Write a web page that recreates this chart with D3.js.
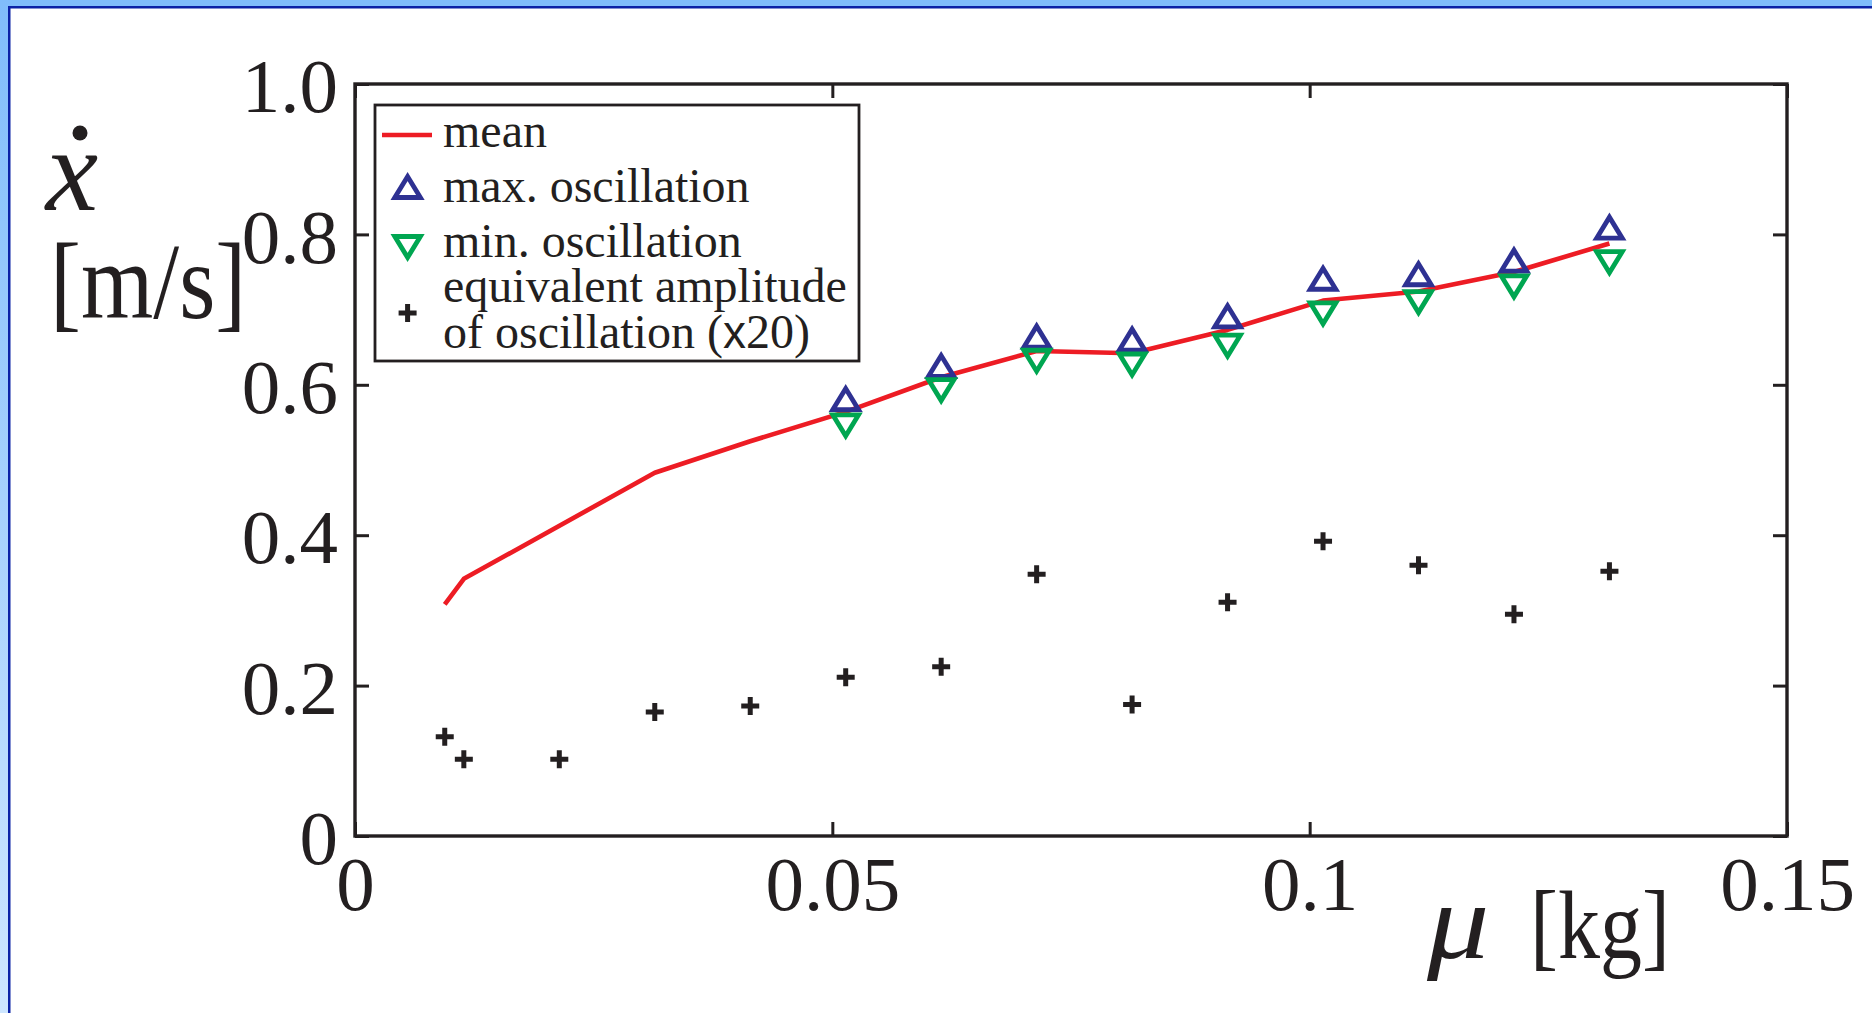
<!DOCTYPE html>
<html>
<head>
<meta charset="utf-8">
<script src="https://cdn.jsdelivr.net/npm/d3@7"></script>
<style>
  body { margin: 0; background: #fff; }
  svg { display: block; }
  text { fill: #231F20; font-family: "Liberation Serif", "Times New Roman", serif; }
</style>
</head>
<body>
<svg id="chart" width="1872" height="1013"></svg>
<script>
// mass mu [kg]
var mass = [0.0094, 0.0114, 0.0214, 0.0314, 0.0414, 0.0514, 0.0614, 0.0714, 0.0814, 0.0914, 0.1014, 0.1114, 0.1214, 0.1314];
// velocity xdot [m/s]
var meanVel = [0.308, 0.342, null, 0.483, 0.525, 0.564, 0.610, 0.645, 0.642, 0.673, 0.712, 0.724, 0.750, 0.788];
var maxOsc  = [null, null, null, null, null, 0.581, 0.625, 0.664, 0.660, 0.691, 0.741, 0.747, 0.765, 0.809];
var minOsc  = [null, null, null, null, null, 0.546, 0.593, 0.632, 0.627, 0.652, 0.695, 0.710, 0.731, 0.763];
var ampX20  = [0.132, 0.102, 0.102, 0.165, 0.173, 0.211, 0.225, 0.348, 0.175, 0.311, 0.392, 0.360, 0.295, 0.352];

var xTicks = [0, 0.05, 0.1, 0.15];
var yTicks = [0, 0.2, 0.4, 0.6, 0.8, 1.0];
var legendLabels = ["mean", "max. oscillation", "min. oscillation"];

var ink = "#231F20", red = "#ED1C24", blue = "#2E3192", green = "#00A651";

var svg = d3.select("#chart");
var plotLeft = 355, plotRight = 1787, plotTop = 84, plotBottom = 836;

// slide border
var grad = svg.append("defs").append("linearGradient")
    .attr("id", "band").attr("x1", 0).attr("y1", 0).attr("x2", 0).attr("y2", 1);
grad.append("stop").attr("offset", "0%").attr("stop-color", "#80BDFB");
grad.append("stop").attr("offset", "100%").attr("stop-color", "#CDE6FF");
svg.append("rect").attr("x", 0).attr("y", 0).attr("width", 1872).attr("height", 7).attr("fill", "#80BDFB");
svg.append("rect").attr("x", 0).attr("y", 0).attr("width", 8).attr("height", 1013).attr("fill", "url(#band)");
svg.append("rect").attr("x", 8).attr("y", 6).attr("width", 1864).attr("height", 2.5).attr("fill", "#0B22A6");
svg.append("rect").attr("x", 8).attr("y", 6).attr("width", 2.5).attr("height", 1007).attr("fill", "#0B22A6");

var x = d3.scaleLinear().domain([0, 0.15]).range([plotLeft, plotRight]);
var y = d3.scaleLinear().domain([0, 1]).range([plotBottom, plotTop]);

function fmt(d) {
    if (d == 0) return "0";
    return String(+d.toFixed(2));
}
function fmtY(d) {
    if (d == 0) return "0";
    return d.toFixed(1);
}

var gx = svg.append("g").attr("transform", "translate(0," + plotBottom + ")")
    .call(d3.axisBottom(x).tickValues(xTicks).tickFormat(fmt).tickSizeInner(-14).tickSizeOuter(0).tickPadding(19));
var gy = svg.append("g").attr("transform", "translate(" + plotLeft + ",0)")
    .call(d3.axisLeft(y).tickValues(yTicks).tickFormat(fmtY).tickSizeInner(-14).tickSizeOuter(0).tickPadding(17));
var gt = svg.append("g").attr("transform", "translate(0," + plotTop + ")")
    .call(d3.axisTop(x).tickValues(xTicks).tickFormat("").tickSizeInner(-14).tickSizeOuter(0));
var gr = svg.append("g").attr("transform", "translate(" + plotRight + ",0)")
    .call(d3.axisRight(y).tickValues(yTicks).tickFormat("").tickSizeInner(-14).tickSizeOuter(0));

[gx, gy, gt, gr].forEach(function (g) {
    g.select(".domain").remove();
    g.selectAll("line").attr("stroke", ink).attr("stroke-width", 3);
    g.selectAll("text").attr("font-family", "Liberation Serif").attr("font-size", 77).attr("fill", ink);
});
gy.selectAll("text").attr("dy", "0.36em");

svg.append("rect")
    .attr("x", plotLeft).attr("y", plotTop)
    .attr("width", plotRight - plotLeft).attr("height", plotBottom - plotTop)
    .attr("fill", "none").attr("stroke", ink).attr("stroke-width", 3.4);

// mean line
var meanPts = mass.map(function (m, i) { return [m, meanVel[i]]; })
    .filter(function (d) { return d[1] != null; });
svg.append("path")
    .datum(meanPts)
    .attr("fill", "none")
    .attr("stroke", red)
    .attr("stroke-width", 4.6)
    .attr("stroke-linejoin", "round")
    .attr("d", d3.line().x(function (d) { return x(d[0]); }).y(function (d) { return y(d[1]); }));

function triUp(cx, cy) {
    return "M" + (cx - 12.8) + "," + (cy + 10.5) + "L" + cx + "," + (cy - 10.5) + "L" + (cx + 12.8) + "," + (cy + 10.5) + "Z";
}
function triDown(cx, cy) {
    return "M" + (cx - 12.8) + "," + (cy - 10.5) + "L" + cx + "," + (cy + 10.5) + "L" + (cx + 12.8) + "," + (cy - 10.5) + "Z";
}
function plus(cx, cy) {
    return "M" + (cx - 9) + "," + cy + "H" + (cx + 9) + "M" + cx + "," + (cy - 9) + "V" + (cy + 9);
}

var oscPts = mass.map(function (m, i) { return { m: m, hi: maxOsc[i], lo: minOsc[i] }; })
    .filter(function (d) { return d.hi != null; });

svg.append("g").selectAll("path")
    .data(oscPts)
    .enter().append("path")
    .attr("d", function (d) { return triUp(x(d.m), y(d.hi)); })
    .attr("fill", "none").attr("stroke", blue).attr("stroke-width", 4.8).attr("stroke-linejoin", "miter");

svg.append("g").selectAll("path")
    .data(oscPts)
    .enter().append("path")
    .attr("d", function (d) { return triDown(x(d.m), y(d.lo)); })
    .attr("fill", "none").attr("stroke", green).attr("stroke-width", 4.8).attr("stroke-linejoin", "miter");

svg.append("g").selectAll("path")
    .data(mass)
    .enter().append("path")
    .attr("d", function (d, i) { return plus(x(d), y(ampX20[i])); })
    .attr("fill", "none").attr("stroke", ink).attr("stroke-width", 5);

// legend
var lg = svg.append("g");
lg.append("rect")
    .attr("x", 375).attr("y", 105).attr("width", 484).attr("height", 256)
    .attr("fill", "#fff").attr("stroke", ink).attr("stroke-width", 2.8);
lg.append("line")
    .attr("x1", 382).attr("x2", 432).attr("y1", 135).attr("y2", 135)
    .attr("stroke", red).attr("stroke-width", 4.6);
lg.append("path").attr("d", triUp(407.6, 187))
    .attr("fill", "none").attr("stroke", blue).attr("stroke-width", 4.8);
lg.append("path").attr("d", triDown(407.6, 247))
    .attr("fill", "none").attr("stroke", green).attr("stroke-width", 4.8);
lg.append("path").attr("d", plus(407.6, 313))
    .attr("fill", "none").attr("stroke", ink).attr("stroke-width", 5);

var baselines = [147, 202, 257];
lg.selectAll("text.item")
    .data(legendLabels)
    .enter().append("text")
    .attr("class", "item")
    .attr("x", 443)
    .attr("y", function (d, i) { return baselines[i]; })
    .attr("font-size", 48)
    .text(function (d) { return d; });
lg.append("text").attr("x", 443).attr("y", 302).attr("font-size", 48).text("equivalent amplitude");
var last = lg.append("text").attr("x", 443).attr("y", 348).attr("font-size", 48);
last.append("tspan").text("of oscillation (");
last.append("tspan").attr("font-family", "Liberation Sans").attr("font-size", 46).text("x");
last.append("tspan").text("20)");

// axis labels
var yl = svg.append("g");
yl.append("text")
    .attr("x", 72).attr("y", 210)
    .attr("text-anchor", "middle")
    .attr("font-style", "italic")
    .attr("font-size", 118)
    .text("x");
yl.append("circle").attr("cx", 80).attr("cy", 133).attr("r", 7.5).attr("fill", ink);
yl.append("text")
    .attr("transform", "translate(50,318) scale(1,1.15)")
    .attr("font-size", 93)
    .text("[m/s]");

var xl = svg.append("g");
xl.append("text")
    .attr("transform", "translate(1427,958) scale(1.15,1)")
    .attr("font-style", "italic")
    .attr("font-size", 108)
    .text("μ");
xl.append("text")
    .attr("transform", "translate(1530,958) scale(1,1.15)")
    .attr("font-size", 84)
    .text("[kg]");
</script>
</body>
</html>
